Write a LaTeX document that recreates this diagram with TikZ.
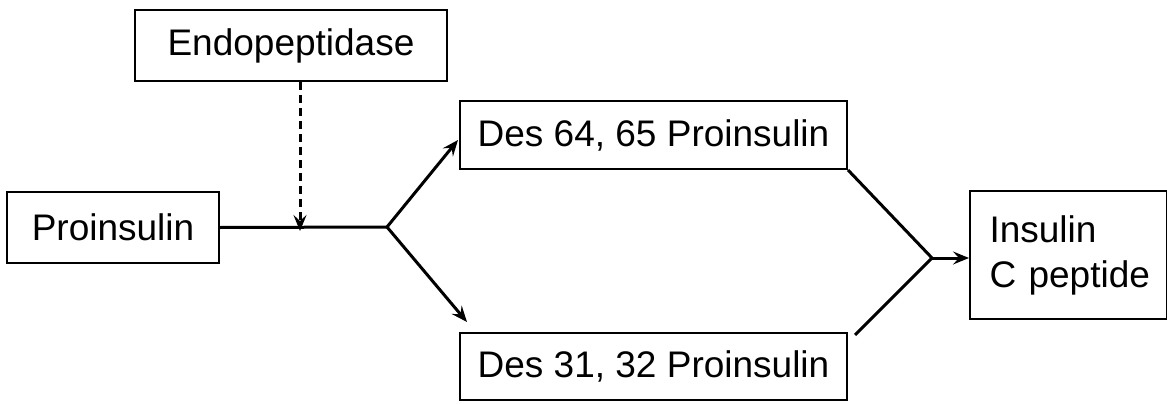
\documentclass[tikz,border=0pt]{standalone}
\usepackage{fontspec}
\setmainfont{Liberation Sans}
\usetikzlibrary{arrows.meta}
\begin{document}
\begin{tikzpicture}[x=1pt,y=-1pt,
  box/.style={draw, line width=2pt, rectangle, inner sep=0pt, font=\fontsize{37}{45}\selectfont},
  conn/.style={line width=3pt},
  tip/.style={-{Stealth[length=16pt,width=13pt,inset=6pt]}},
  arr/.style={conn, tip}]
\useasboundingbox (0,0) rectangle (1167,404);
\node[box, minimum width=312pt, minimum height=71pt] (endo) at (291,45.5) {Endopeptidase};
\node[box, minimum width=212pt, minimum height=71pt] (pro) at (113,227.5) {Proinsulin};
\node[box, minimum width=387pt, minimum height=68pt] (d64) at (653.5,135) {Des 64, 65 Proinsulin};
\node[box, minimum width=387pt, minimum height=67pt] (d31) at (653.5,366.5) {Des 31, 32 Proinsulin};
\node[box, minimum width=197pt, minimum height=128pt, align=left, text width=158pt] (ins) at (1068.5,255) {\mbox{Insulin}\\\mbox{C peptide}};
\coordinate (branch) at (387,227);
\coordinate (cut) at (300,227);
\coordinate (join) at (932,258);
\coordinate (t64) at (458,140);
\coordinate (t31) at (467,322);
\coordinate (s31) at (855,335);
\draw[conn] (pro.east) -- (branch);
\draw[conn, dash pattern=on 8pt off 5pt, tip] (endo.south -| cut) -- ([yshift=-4pt]cut);
\draw[arr] (branch) -- (t64);
\draw[arr] (branch) -- (t31);
\draw[conn] (d64.south east) -- (join);
\draw[conn] (s31) -- (join);
\draw[arr] (join) -- (join -| ins.west);
\end{tikzpicture}
\end{document}
